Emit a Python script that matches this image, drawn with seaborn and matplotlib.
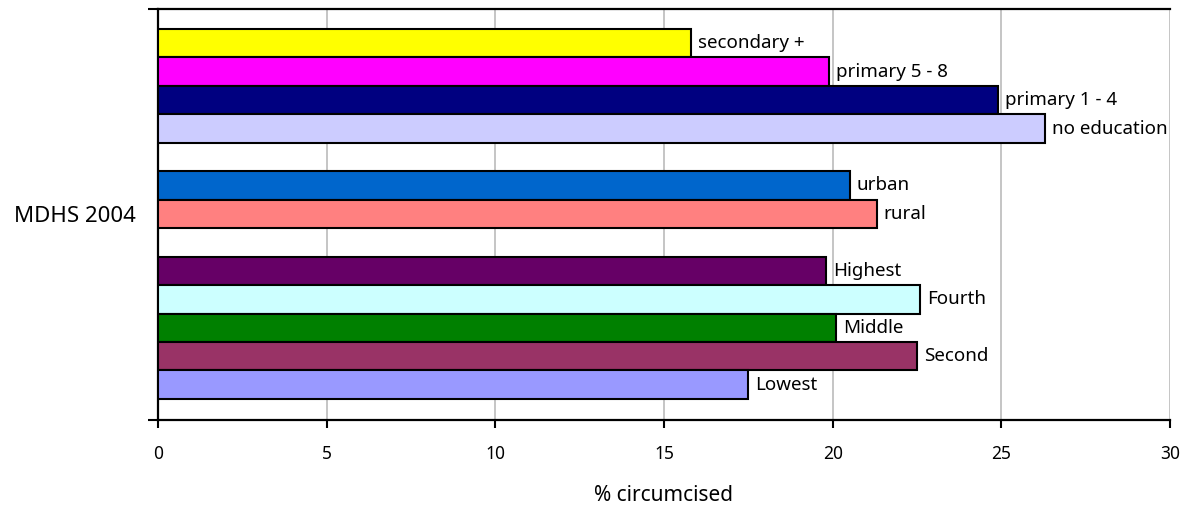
import matplotlib
matplotlib.use("Agg")
import matplotlib.pyplot as plt
import seaborn as sns
import pandas as pd

# Circumcision prevalence by subgroup, MDHS 2004
labels = ["secondary +", "primary 5 - 8", "primary 1 - 4", "no education",
          "urban", "rural",
          "Highest", "Fourth", "Middle", "Second", "Lowest"]
values = [15.8, 19.9, 24.9, 26.3,
          20.5, 21.3,
          19.8, 22.6, 20.1, 22.5, 17.5]
colors = ["#FFFF00", "#FF00FF", "#000080", "#CCCCFF",
          "#0066CC", "#FF8080",
          "#660066", "#CCFFFF", "#008000", "#993366", "#9999FF"]
survey = "MDHS 2004"
x_ticks = [0, 5, 10, 15, 20, 25, 30]
x_label = "% circumcised"

# Bar order from top to bottom, with empty slots separating the groups
order = labels[:4] + ["_gap1"] + labels[4:6] + ["_gap2"] + labels[6:]

df = pd.DataFrame({"group": labels, "pct": values})
palette = dict(zip(labels, colors))

sns.set_theme(style="white")
plt.rcParams["font.family"] = ["Noto Sans", "DejaVu Sans"]
plt.rcParams["text.color"] = "black"
plt.rcParams["axes.labelcolor"] = "black"
plt.rcParams["xtick.color"] = "black"
plt.rcParams["ytick.color"] = "black"

fig = plt.figure(figsize=(11.93, 5.08), dpi=100)
ax = fig.add_axes([158 / 1193, 1 - 420 / 508, (1170 - 158) / 1193, (420 - 9) / 508])

sns.barplot(data=df, x="pct", y="group", hue="group", order=order,
            palette=palette, orient="h", width=1.0, legend=False,
            edgecolor="black", linewidth=1.5, saturation=1.0, ax=ax, zorder=3)

# Group labels just right of each bar end
for lab, val in zip(labels, values):
    ypos = order.index(lab)
    ax.text(val + 0.2, ypos, lab, va="center", ha="left", fontsize=13.5,
            color="black", zorder=4)

ax.set_xlim(0, 30)
ax.set_ylim(len(order) - 0.5 + 0.74, -0.5 - 0.7)

ax.set_xticks(x_ticks)
ax.set_xticklabels([str(t) for t in x_ticks], fontsize=12.5)
ax.xaxis.grid(True, color="#C0C0C0", linewidth=1.3, zorder=0)
ax.yaxis.grid(False)
ax.set_axisbelow(True)

# Y axis: ticks at both ends, survey name centred
y0, y1 = ax.get_ylim()
ax.set_yticks([y0, y1])
ax.set_yticklabels(["", ""])
ax.set_yticks([(y0 + y1) / 2], minor=True)
ax.set_yticklabels([survey], minor=True, fontsize=16)
ax.tick_params(axis="y", which="major", direction="out", length=7, width=1.5,
               color="black", left=True)
ax.tick_params(axis="y", which="minor", length=0, pad=16)
ax.tick_params(axis="x", direction="out", length=6, width=1.5, color="black",
               bottom=True, pad=12)

ax.set_ylabel("")
ax.set_xlabel(x_label, fontsize=15, labelpad=16)

for side in ["left", "bottom", "top"]:
    ax.spines[side].set_visible(True)
    ax.spines[side].set_color("black")
    ax.spines[side].set_linewidth(1.6)
ax.spines["right"].set_visible(False)

fig.savefig("out.png", dpi=100, facecolor="white")
